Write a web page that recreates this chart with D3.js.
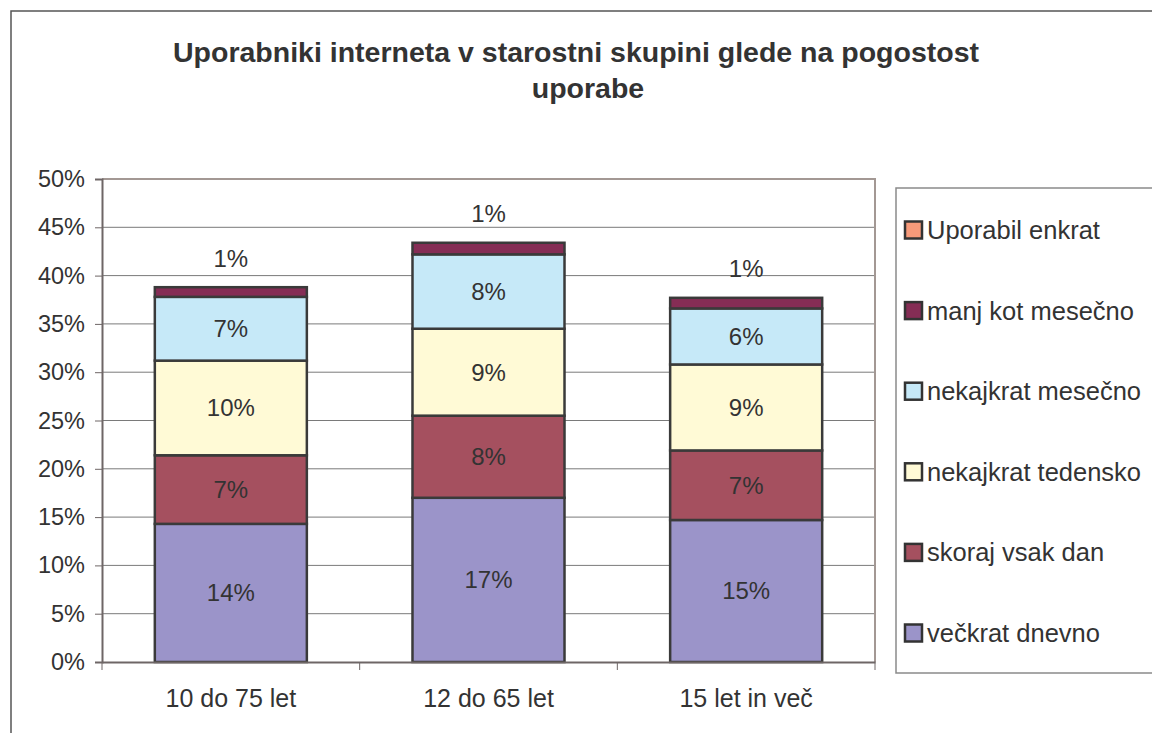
<!DOCTYPE html>
<html>
<head>
<meta charset="utf-8">
<script src="https://cdn.jsdelivr.net/npm/d3@7"></script>
<style>
  body { margin: 0; background: #fff; }
  svg text { font-family: "Liberation Sans", Arial, sans-serif; fill: #333; }
</style>
</head>
<body>
<div id="chart"></div>
<script>
const categories = ["10 do 75 let", "12 do 65 let", "15 let in več"]
const seriesNames = ["večkrat dnevno", "skoraj vsak dan", "nekajkrat tedensko", "nekajkrat mesečno", "manj kot mesečno", "Uporabil enkrat"]
const veckratDnevno = [14.3, 17.0, 14.7]
const skorajVsakDan = [7.1, 8.5, 7.2]
const nekajkratTedensko = [9.8, 9.0, 8.9]
const nekajkratMesecno = [6.6, 7.7, 5.8]
const manjKotMesecno = [1.0, 1.2, 1.1]
const uporabilEnkrat = [0, 0, 0]
const segmentLabels = [
  ["14%", "17%", "15%"],
  ["7%", "8%", "7%"],
  ["10%", "9%", "9%"],
  ["7%", "8%", "6%"],
  ["1%", "1%", "1%"],
  ["", "", ""]
]
const yTicks = [0, 5, 10, 15, 20, 25, 30, 35, 40, 45, 50]
const colors = ["#9b94c9", "#a5505f", "#fffad6", "#c6e9f8", "#852d55", "#f79a7a"]

const W = 1152, H = 733
const plotL = 102, plotR = 875, plotT = 179, plotB = 662

const svg = d3.select("#chart").append("svg")
  .attr("width", W).attr("height", H)

// outer chart frame
svg.append("rect")
  .attr("x", 11).attr("y", 11).attr("width", W + 20).attr("height", H + 20)
  .attr("fill", "none").attr("stroke", "#555").attr("stroke-width", 1.5)

// title
svg.append("text").attr("x", 576).attr("y", 62)
  .attr("text-anchor", "middle").style("font-size", "28.5px").style("font-weight", "bold")
  .text("Uporabniki interneta v starostni skupini glede na pogostost")
svg.append("text").attr("x", 588).attr("y", 98)
  .attr("text-anchor", "middle").style("font-size", "28.5px").style("font-weight", "bold")
  .text("uporabe")

const x = d3.scaleBand(categories, [plotL, plotR]).paddingInner(0.41).paddingOuter(0.205)
const y = d3.scaleLinear([0, 50], [plotB, plotT])

// gridlines
svg.append("g").selectAll("line").data(yTicks.slice(1, -1)).enter().append("line")
  .attr("x1", plotL).attr("x2", plotR)
  .attr("y1", d => y(d)).attr("y2", d => y(d))
  .attr("stroke", "#7a7a7a").attr("stroke-width", 1)

// plot frame (top / right)
svg.append("path")
  .attr("d", `M${plotL},${plotT}H${plotR}V${plotB}`)
  .attr("fill", "none").attr("stroke", "#a39894").attr("stroke-width", 2)

// stack
const table = categories.map((c, i) => ({
  cat: c,
  "večkrat dnevno": veckratDnevno[i],
  "skoraj vsak dan": skorajVsakDan[i],
  "nekajkrat tedensko": nekajkratTedensko[i],
  "nekajkrat mesečno": nekajkratMesecno[i],
  "manj kot mesečno": manjKotMesecno[i],
  "Uporabil enkrat": uporabilEnkrat[i]
}))
const stacked = d3.stack().keys(seriesNames)(table)

stacked.forEach((layer, si) => {
  svg.append("g").selectAll("rect").data(layer).enter().append("rect")
    .attr("x", d => x(d.data.cat))
    .attr("width", x.bandwidth())
    .attr("y", d => y(d[1]))
    .attr("height", d => y(d[0]) - y(d[1]))
    .attr("fill", colors[si])
    .attr("stroke", d => d[1] > d[0] ? "#3a3a3a" : "none")
    .attr("stroke-width", 2.5)
})

// segment labels
stacked.forEach((layer, si) => {
  svg.append("g").selectAll("text").data(layer).enter().append("text")
    .attr("x", d => x(d.data.cat) + x.bandwidth() / 2)
    .attr("y", d => si === 4 ? y(d[1] + 3) : y((d[0] + d[1]) / 2))
    .attr("dy", "0.35em")
    .attr("text-anchor", "middle")
    .style("font-size", "24px")
    .text((d, i) => segmentLabels[si][i])
})

// y axis
const yAxis = svg.append("g").attr("transform", `translate(${plotL},0)`)
  .call(d3.axisLeft(y).tickValues(yTicks).tickFormat(d => d + "%").tickSize(7).tickPadding(10))
yAxis.select(".domain").attr("stroke", "#6e6666").attr("stroke-width", 2)
yAxis.selectAll(".tick line").attr("stroke", "#6e6666")
yAxis.selectAll("text").style("font-size", "23.5px").attr("fill", "#333")

// x axis
const xAxis = svg.append("g").attr("transform", `translate(0,${plotB})`)
  .call(d3.axisBottom(x).tickSize(0).tickPadding(27))
xAxis.select(".domain").attr("stroke", "#6e6666").attr("stroke-width", 2)
xAxis.selectAll("text").style("font-size", "25px").attr("fill", "#333")
xAxis.selectAll(".sep").data(d3.range(categories.length + 1)).enter().append("line")
  .attr("x1", i => plotL + i * (plotR - plotL) / categories.length)
  .attr("x2", i => plotL + i * (plotR - plotL) / categories.length)
  .attr("y1", 0).attr("y2", 8).attr("stroke", "#6e6666")

// legend
const legend = svg.append("g")
legend.append("rect")
  .attr("x", 896).attr("y", 188).attr("width", 300).attr("height", 485)
  .attr("fill", "#fff").attr("stroke", "#8a8a8a").attr("stroke-width", 1.5)
const legendOrder = seriesNames.slice().reverse()
const ly = d3.scalePoint(legendOrder, [230, 633])
legendOrder.forEach(name => {
  const si = seriesNames.indexOf(name)
  legend.append("rect")
    .attr("x", 905).attr("y", ly(name) - 8.5).attr("width", 17).attr("height", 17)
    .attr("fill", colors[si]).attr("stroke", "#333").attr("stroke-width", 2.5)
  legend.append("text")
    .attr("x", 927).attr("y", ly(name)).attr("dy", "0.35em")
    .style("font-size", "25.5px")
    .text(name)
})
</script>
</body>
</html>
